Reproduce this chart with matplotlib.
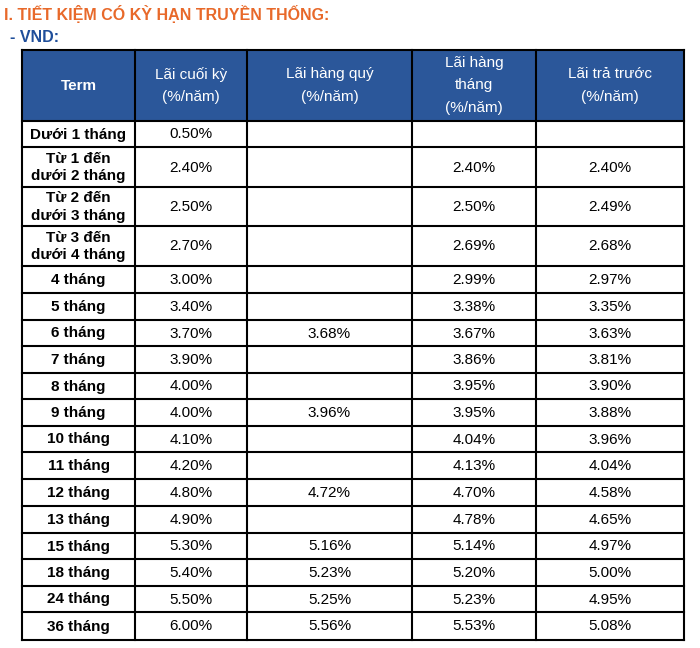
import matplotlib
matplotlib.use("Agg")
import matplotlib.pyplot as plt
from matplotlib.patches import Rectangle

plt.rcParams["font.family"] = ["Liberation Sans", "DejaVu Sans"]

TITLE = "I. TIẾT KIỆM CÓ KỲ HẠN TRUYỀN THỐNG:"
SUBTITLE = "- VND:"
HEADERS = ["Term", "Lãi cuối kỳ\n(%/năm)", "Lãi hàng quý\n(%/năm)",
           "Lãi hàng\ntháng\n(%/năm)", "Lãi trả trước\n(%/năm)"]
TERMS = ["Dưới 1 tháng", "Từ 1 đến\ndưới 2 tháng", "Từ 2 đến\ndưới 3 tháng",
         "Từ 3 đến\ndưới 4 tháng", "4 tháng", "5 tháng", "6 tháng", "7 tháng",
         "8 tháng", "9 tháng", "10 tháng", "11 tháng", "12 tháng", "13 tháng",
         "15 tháng", "18 tháng", "24 tháng", "36 tháng"]
END_RATE = ["0.50%", "2.40%", "2.50%", "2.70%", "3.00%", "3.40%", "3.70%", "3.90%",
            "4.00%", "4.00%", "4.10%", "4.20%", "4.80%", "4.90%", "5.30%", "5.40%",
            "5.50%", "6.00%"]
QUARTERLY = ["", "", "", "", "", "", "3.68%", "", "", "3.96%", "", "", "4.72%", "",
             "5.16%", "5.23%", "5.25%", "5.56%"]
MONTHLY = ["", "2.40%", "2.50%", "2.69%", "2.99%", "3.38%", "3.67%", "3.86%", "3.95%",
           "3.95%", "4.04%", "4.13%", "4.70%", "4.78%", "5.14%", "5.20%", "5.23%", "5.53%"]
PREPAID = ["", "2.40%", "2.49%", "2.68%", "2.97%", "3.35%", "3.63%", "3.81%", "3.90%",
           "3.88%", "3.96%", "4.04%", "4.58%", "4.65%", "4.97%", "5.00%", "4.95%", "5.08%"]

col_x = [22, 135, 247, 412, 536, 684]
row_y = [50, 121, 147, 187, 226, 266, 293, 320, 346, 373, 399, 426, 452, 479,
         506, 533, 559, 586, 612, 640]

fig = plt.figure(figsize=(7, 6.48), dpi=100)
ax = fig.add_axes([0, 0, 1, 1])
ax.set_xlim(0, 700)
ax.set_ylim(648, 0)
ax.axis("off")

ax.text(4, 14, TITLE, color="#e8692a", fontsize=11.5, fontweight="bold", va="center")
ax.text(10, 38, SUBTITLE, color="#1f4e9a", fontsize=11.5, fontweight="bold", va="center")

ax.add_patch(Rectangle((col_x[0], row_y[0]), col_x[-1] - col_x[0], row_y[1] - row_y[0],
                       facecolor="#2b579a", edgecolor="none"))
for j, h in enumerate(HEADERS):
    ax.text((col_x[j] + col_x[j + 1]) / 2, (row_y[0] + row_y[1]) / 2, h, color="white",
            fontsize=11, fontweight="bold" if j == 0 else "normal",
            ha="center", va="center", linespacing=1.75)

cols = [TERMS, END_RATE, QUARTERLY, MONTHLY, PREPAID]
for i in range(len(TERMS)):
    yc = (row_y[i + 1] + row_y[i + 2]) / 2
    for j, col in enumerate(cols):
        ax.text((col_x[j] + col_x[j + 1]) / 2, yc + 0.5, col[i], color="black",
                fontsize=11, fontweight="bold" if j == 0 else "normal",
                ha="center", va="center", linespacing=1.3)

for x in col_x:
    ax.plot([x, x], [row_y[0], row_y[-1]], color="black", lw=1.5,
            solid_capstyle="projecting")
for y in row_y:
    ax.plot([col_x[0], col_x[-1]], [y, y], color="black", lw=1.5,
            solid_capstyle="projecting")

fig.savefig("out.png", dpi=100)
